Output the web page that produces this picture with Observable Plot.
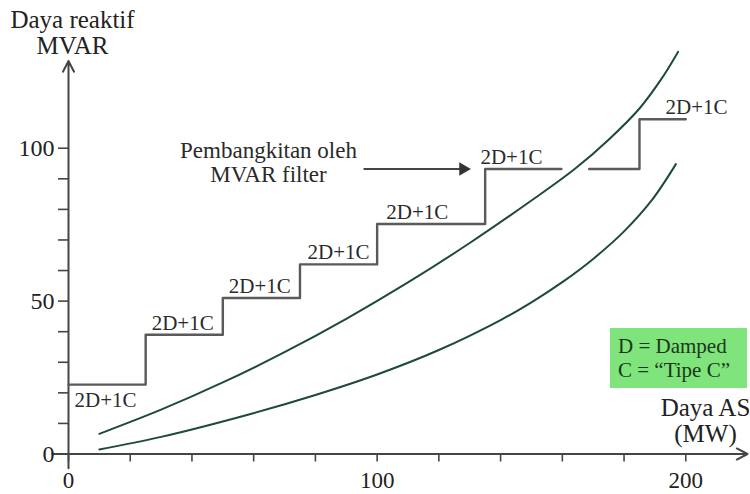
<!DOCTYPE html>
<html>
<head>
<meta charset="utf-8">
<script src="https://cdn.jsdelivr.net/npm/d3@7"></script>
<script src="https://cdn.jsdelivr.net/npm/@observablehq/plot@0.6"></script>
<style>
  html, body { margin: 0; padding: 0; background: #fff; }
  #wrap { position: relative; width: 750px; height: 494px; }
  #legend {
    position: absolute; left: 610px; top: 328px; width: 129px; height: 60px;
    background: #7fe47b; padding: 0 0 0 8px;
    font-family: "Liberation Serif", "Times New Roman", serif; font-size: 21px;
    line-height: 24px; color: #1c361c; box-sizing: content-box;
  }
  #legend div:first-child { margin-top: 6px; }
</style>
</head>
<body>
<div id="wrap"></div>
<script>
// ---- data ----
const upperX = [10, 30, 50, 70, 90, 110, 130, 150, 164, 175, 185, 192, 197.5];
const upperY = [6.6, 14.5, 23.4, 33.3, 44.2, 56.1, 69, 82.9, 93.2, 102.8, 113, 122.5, 131.5];
const lowerX = [10, 30, 59, 80, 100, 120, 140, 150, 160, 170, 180, 189, 196.8];
const lowerY = [1.5, 5.6, 13.1, 19.3, 26, 34, 43.8, 49.6, 56.2, 63.8, 72.8, 83, 94.8];
// step line (filter generation), step-after
const stepX = [0, 25, 50, 75, 100, 135, 185, 200];
const stepY = [22.7, 39, 51, 62, 75.2, 93.2, 109.5, 109.5];
const gapStart = 159.7, gapEnd = 168.7;   // break in the step line where the curve crosses
const stepLabel = "2D+1C";
const labelX = [12, 37, 62, 87.5, 113, 143.5, 203.5];
const annotText = "Pembangkitan oleh\nMVAR filter";
const annotX = 64.8;
const arrowFrom = 95.6, arrowTo = 130.3, arrowLevel = 93.2;
const xMinorTicks = d3.range(0, 201, 20);
const xLabelTicks = [0, 100, 200];
const yMinorTicks = d3.range(0, 101, 10);
const yLabelTicks = [0, 50, 100];
const xAxisExtent = [-5.2, 220];
const yAxisExtent = [-4.7, 128.5];
const yTitle = "Daya reaktif\nMVAR";
const xTitle = "Daya AS\n(MW)";
const legendLines = ["D = Damped", "C = \u201CTipe C\u201D"];

// ---- build tables ----
const upper = upperX.map((x, i) => ({x, y: upperY[i]}));
const lower = lowerX.map((x, i) => ({x, y: lowerY[i]}));
const steps = [];
stepX.forEach((x, i) => {
  steps.push({x, y: stepY[i]});
  if (i < stepX.length - 1 && gapStart > x && gapStart < stepX[i + 1]) {
    steps.push({x: gapStart, y: stepY[i]});
    steps.push({x: NaN, y: NaN});
    steps.push({x: gapEnd, y: stepY[i]});
  }
});
const labels = labelX.map((x, i) => ({x, y: stepY[i], text: stepLabel, below: i === 0}));

const serif = "'Liberation Serif', 'Times New Roman', serif";
const axisColor = "#454545";
const curveColor = "#1d4a3b";
const stepColor = "#5a5a5a";

const chart = Plot.plot({
  width: 750, height: 494,
  marginLeft: 68, marginRight: 3, marginTop: 56, marginBottom: 40.5,
  x: {domain: [0, 220], axis: null},
  y: {domain: [0, 130], axis: null},
  style: {fontFamily: serif, fontSize: "24px", color: "#222", background: "#fff", overflow: "visible"},
  marks: [
    // axes
    Plot.arrow([{}], {x1: xAxisExtent[0], x2: xAxisExtent[1], y1: 0, y2: 0, stroke: axisColor, strokeWidth: 2, headLength: 9, headAngle: 55}),
    Plot.arrow([{}], {x1: 0, x2: 0, y1: yAxisExtent[0], y2: yAxisExtent[1], stroke: axisColor, strokeWidth: 2, headLength: 9, headAngle: 55}),
    Plot.axisX({ticks: xMinorTicks, tickSize: 8, fill: "none", stroke: axisColor, strokeWidth: 1.6, label: null}),
    Plot.axisX({ticks: xLabelTicks, tickSize: 0, tickPadding: 18, fontSize: 23, fill: "#222", label: null}),
    Plot.axisY({ticks: yMinorTicks, tickSize: 10, fill: "none", stroke: axisColor, strokeWidth: 1.6, label: null}),
    Plot.axisY({ticks: yLabelTicks, tickSize: 0, tickPadding: 14, fontSize: 24, fill: "#222", label: null}),
    // curves
    Plot.line(upper, {x: "x", y: "y", stroke: curveColor, strokeWidth: 2, curve: "catmull-rom"}),
    Plot.line(lower, {x: "x", y: "y", stroke: curveColor, strokeWidth: 2, curve: "catmull-rom"}),
    // step line
    Plot.line(steps, {x: "x", y: "y", stroke: stepColor, strokeWidth: 2.4, curve: "step-after"}),
    // step labels
    Plot.text(labels.filter(d => !d.below), {x: "x", y: "y", text: "text", fontSize: 21, fill: "#2a2a2a", textAnchor: "middle", lineAnchor: "bottom", dy: -5}),
    Plot.text(labels.filter(d => d.below), {x: "x", y: "y", text: "text", fontSize: 21, fill: "#2a2a2a", textAnchor: "middle", lineAnchor: "top", dy: 7}),
    // annotation + arrow
    Plot.text([annotText], {x: annotX, y: arrowLevel, text: d => d, fontSize: 23, fill: "#2a2a2a", textAnchor: "middle", lineAnchor: "bottom", lineHeight: 1.02, dy: 12.5}),
    Plot.link([{}], {x1: arrowFrom, x2: arrowTo - 3, y1: arrowLevel, y2: arrowLevel, stroke: axisColor, strokeWidth: 2}),
    Plot.dot([{}], {x: arrowTo, y: arrowLevel, symbol: "triangle", r: 5, rotate: 90, fill: "#333", stroke: "none", dx: -7.5}),
    // axis titles
    Plot.text([yTitle], {frameAnchor: "top-left", text: d => d, fontSize: 25, fill: "#222", textAnchor: "middle", lineAnchor: "bottom", lineHeight: 1.04, dx: 4, dy: -3}),
    Plot.text([xTitle], {frameAnchor: "bottom-right", text: d => d, fontSize: 25, fill: "#222", textAnchor: "middle", lineAnchor: "bottom", lineHeight: 1.04, dx: -42, dy: -12.5})
  ]
});

const wrap = document.getElementById("wrap");
wrap.appendChild(chart);
const legend = document.createElement("div");
legend.id = "legend";
legendLines.forEach(t => { const d = document.createElement("div"); d.textContent = t; legend.appendChild(d); });
wrap.appendChild(legend);
</script>
</body>
</html>
